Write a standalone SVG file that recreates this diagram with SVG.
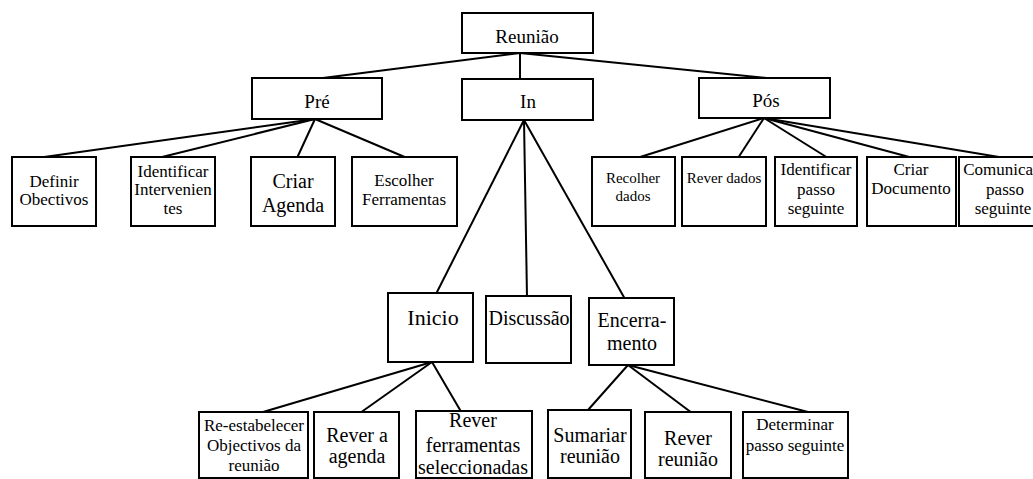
<svg xmlns="http://www.w3.org/2000/svg" width="1033" height="479" viewBox="0 0 1033 479">
<style>
rect{fill:#fff;stroke:#000;stroke-width:2}
line{stroke:#000;stroke-width:2}
text{font-family:'Liberation Serif','DejaVu Serif',serif;fill:#000;text-anchor:middle}
.l1{font-size:19px}
.s17{font-size:17px}
.s15{font-size:15px}
.s20{font-size:20px}
.s22{font-size:22px}
</style>
<rect x="0" y="0" width="1033" height="479" style="fill:#fff;stroke:none"/>
<g id="connectors">
<line x1="520" y1="53" x2="315" y2="79"/>
<line x1="520" y1="53" x2="520" y2="79"/>
<line x1="520" y1="53" x2="776" y2="79"/>
<line x1="315" y1="119" x2="37" y2="158"/>
<line x1="315" y1="119" x2="158" y2="158"/>
<line x1="315" y1="119" x2="297" y2="158"/>
<line x1="315" y1="119" x2="407" y2="158"/>
<line x1="764" y1="118" x2="637" y2="158"/>
<line x1="764" y1="118" x2="738" y2="158"/>
<line x1="764" y1="118" x2="828" y2="158"/>
<line x1="764" y1="118" x2="913" y2="158"/>
<line x1="764" y1="118" x2="1005" y2="158"/>
<line x1="524" y1="120" x2="436" y2="294"/>
<line x1="524" y1="120" x2="527" y2="297"/>
<line x1="524" y1="120" x2="625" y2="299"/>
<line x1="432" y1="362" x2="263" y2="412"/>
<line x1="432" y1="362" x2="360" y2="413"/>
<line x1="432" y1="362" x2="463" y2="415"/>
<line x1="628" y1="365" x2="588" y2="410"/>
<line x1="628" y1="365" x2="692" y2="413"/>
<line x1="628" y1="365" x2="808" y2="412"/>
</g>
<g id="reuniao"><rect x="462" y="13" width="131" height="40"/><text class="l1" x="527" y="43">Reunião</text></g>
<g id="pre"><rect x="252" y="78" width="130" height="41"/><text class="l1" x="317" y="108">Pré</text></g>
<g id="in"><rect x="462" y="79" width="131" height="41"/><text class="l1" x="528" y="108">In</text></g>
<g id="pos"><rect x="699" y="78" width="131" height="40"/><text class="l1" x="766" y="107">Pós</text></g>
<g id="definir"><rect x="12" y="157" width="84" height="69"/><text class="s17" x="54" y="187">Definir</text><text class="s17" x="54" y="205">Obectivos</text></g>
<g id="identificar"><rect x="131" y="157" width="84" height="69"/><text class="s17" x="173" y="177">Identificar</text><text class="s17" x="173" y="195">Intervenien</text><text class="s17" x="173" y="214">tes</text></g>
<g id="criar-agenda"><rect x="251" y="157" width="84" height="69"/><text class="s20" x="293" y="188">Criar</text><text class="s20" x="293" y="212">Agenda</text></g>
<g id="escolher"><rect x="352" y="157" width="105" height="69"/><text class="s17" x="404" y="186">Escolher</text><text class="s17" x="404" y="205">Ferramentas</text></g>
<g id="recolher"><rect x="592" y="157" width="83" height="69"/><text class="s15" x="633" y="183">Recolher</text><text class="s15" x="633" y="201">dados</text></g>
<g id="rever-dados"><rect x="682" y="157" width="84" height="69"/><text class="s15" x="724" y="183">Rever dados</text></g>
<g id="identificar-passo"><rect x="775" y="157" width="82" height="69"/><text class="s17" x="816" y="175">Identificar</text><text class="s17" x="816" y="195">passo</text><text class="s17" x="816" y="214">seguinte</text></g>
<g id="criar-documento"><rect x="867" y="157" width="89" height="69"/><text class="s17" x="911" y="175">Criar</text><text class="s17" x="911" y="194">Documento</text></g>
<g id="comunicar"><rect x="959" y="157" width="90" height="69"/><text class="s17" x="1001" y="175">Comunicar</text><text class="s17" x="1005" y="195">passo</text><text class="s17" x="1003" y="214">seguinte</text></g>
<g id="inicio"><rect x="388" y="293" width="85" height="69"/><text class="s22" x="433" y="325">Inicio</text></g>
<g id="discussao"><rect x="486" y="296" width="85" height="67"/><text class="s20" x="529" y="325">Discussão</text></g>
<g id="encerramento"><rect x="589" y="298" width="85" height="67"/><text class="s20" x="632" y="327">Encerra-</text><text class="s20" x="632" y="350">mento</text></g>
<g id="re-estabelecer"><rect x="199" y="412" width="109" height="66"/><text class="s17" x="254" y="431">Re-estabelecer</text><text class="s17" x="254" y="451">Objectivos da</text><text class="s17" x="254" y="471">reunião</text></g>
<g id="rever-agenda"><rect x="314" y="412" width="85" height="66"/><text class="s20" x="357" y="442">Rever a</text><text class="s20" x="357" y="463">agenda</text></g>
<g id="rever-ferramentas"><rect x="416" y="411" width="116" height="67"/><text class="s20" x="473" y="427">Rever</text><text class="s20" x="473" y="452">ferramentas</text><text class="s20" x="473" y="474">seleccionadas</text></g>
<g id="sumariar"><rect x="548" y="410" width="83" height="68"/><text class="s20" x="590" y="442">Sumariar</text><text class="s20" x="590" y="463">reunião</text></g>
<g id="rever-reuniao"><rect x="645" y="412" width="86" height="66"/><text class="s20" x="688" y="445">Rever</text><text class="s20" x="688" y="466">reunião</text></g>
<g id="determinar"><rect x="743" y="412" width="105" height="66"/><text class="s17" x="795" y="430">Determinar</text><text class="s17" x="795" y="451">passo seguinte</text></g>
</svg>
